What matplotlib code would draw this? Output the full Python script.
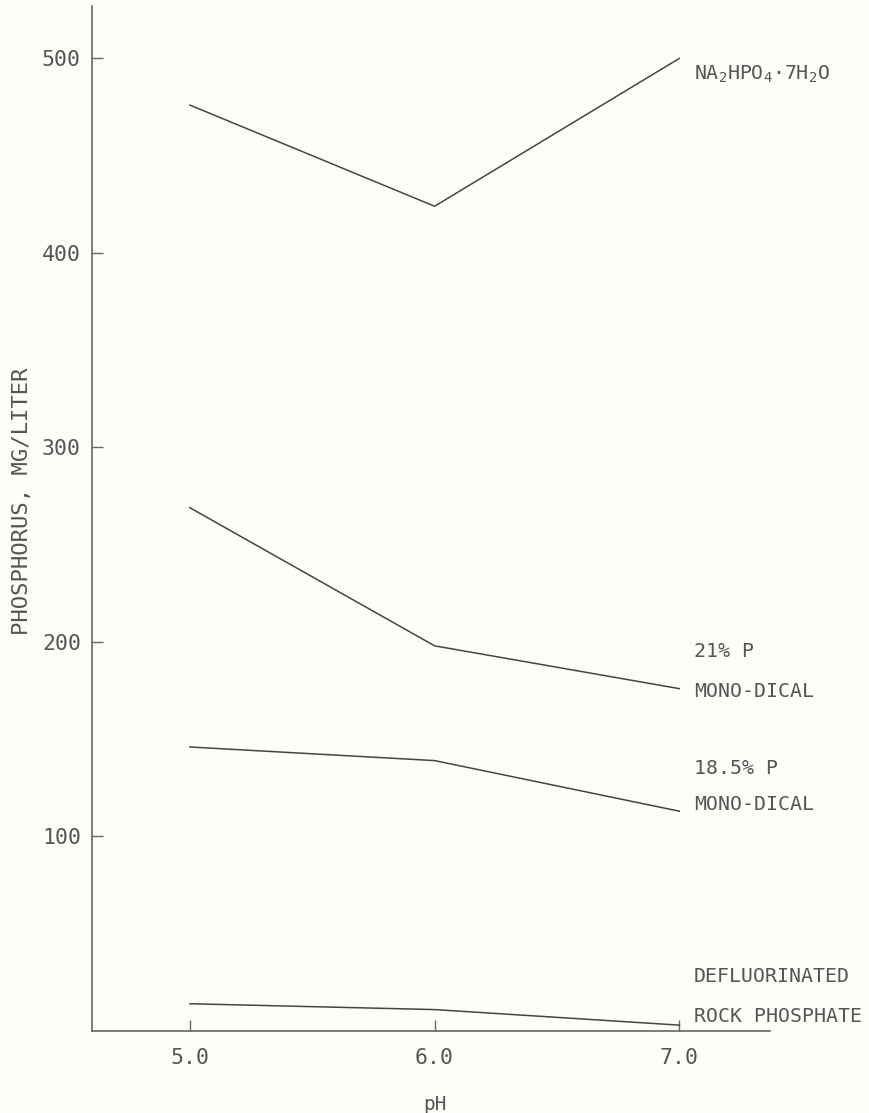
import matplotlib.pyplot as plt

# values
ph = [5.0, 6.0, 7.0]
na2hpo4 = [476, 424, 500]
mono_dical_21 = [269, 198, 176]
mono_dical_185 = [146, 139, 113]
rock_phosphate = [14, 11, 3]

series = [na2hpo4, mono_dical_21, mono_dical_185, rock_phosphate]
labels = [
    (492, r'NA$_2$HPO$_4$$\cdot$7H$_2$O'),
    (195, '21% P'), (174.5, 'MONO-DICAL'),
    (135, '18.5% P'), (116.5, 'MONO-DICAL'),
    (28, 'DEFLUORINATED'), (7.6, 'ROCK PHOSPHATE'),
]
yticks = [100, 200, 300, 400, 500]
xticks = [5.0, 6.0, 7.0]

plt.rcParams['font.family'] = ['DejaVu Sans Mono']
plt.rcParams['mathtext.fontset'] = 'custom'
plt.rcParams['mathtext.rm'] = 'DejaVu Sans Mono'
plt.rcParams['mathtext.it'] = 'DejaVu Sans Mono'
plt.rcParams['mathtext.default'] = 'regular'

fig = plt.figure(figsize=(8.69, 11.13), dpi=100, facecolor='#fdfdfa')
ax = fig.add_axes([0.1059, 0.0737, 0.780, 0.921])
ax.set_facecolor('#fdfdfa')

tc = '#555555'
for s in series:
    ax.plot(ph, s, color='#444444', linewidth=1.1)

for y, t in labels:
    ax.text(7.06, y, t, fontsize=14.3, color=tc, va='center', ha='left')

ax.set_xlim(4.6, 7.37)
ax.set_ylim(0, 527)
ax.set_xticks(xticks)
ax.set_xticklabels(['5.0', '6.0', '7.0'])
ax.set_yticks(yticks)
ax.tick_params(direction='in', length=8, width=1, colors='#666666',
               labelcolor=tc, labelsize=15.5)
ax.tick_params(axis='y', pad=8)
ax.tick_params(axis='x', pad=12)

for side in ['top', 'right']:
    ax.spines[side].set_visible(False)
for side in ['left', 'bottom']:
    ax.spines[side].set_color('#666666')
    ax.spines[side].set_linewidth(1.2)

ax.set_ylabel('PHOSPHORUS, MG/LITER', fontsize=16, color=tc)
ax.yaxis.set_label_coords(-0.088, 0.517)
ax.set_xlabel('pH', fontsize=14, color=tc)
ax.xaxis.set_label_coords(0.506, -0.062)

fig.savefig('out.png', dpi=100, facecolor=fig.get_facecolor())
